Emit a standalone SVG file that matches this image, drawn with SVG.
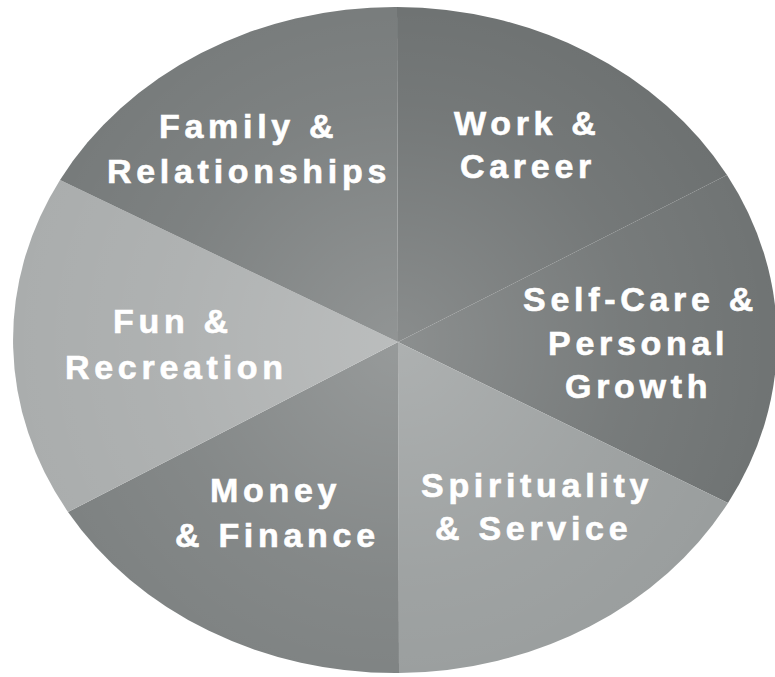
<svg xmlns="http://www.w3.org/2000/svg" width="775" height="677" viewBox="0 0 775 677">
  <defs>
    <radialGradient id="glow" cx="398" cy="342" r="390" gradientUnits="userSpaceOnUse">
      <stop offset="0" stop-color="#ffffff" stop-opacity="0.2"/>
      <stop offset="0.6" stop-color="#ffffff" stop-opacity="0.06"/>
      <stop offset="1" stop-color="#ffffff" stop-opacity="0"/>
    </radialGradient>
    <style>
      .slice { stroke: none; }
      .label { font-family: "Liberation Sans", Arial, Helvetica, sans-serif; font-weight: bold; font-size: 34px; letter-spacing: 4.7px; fill: #ffffff; stroke: #ffffff; stroke-width: 0.6px; }
    </style>
  </defs>
  <rect width="775" height="677" fill="#ffffff"/>

  <!-- Wheel slices, clockwise from the top -->
  <g id="work-career">
    <path class="slice" fill="#6c7070" d="M398 342 L397 7 A382 333 0 0 1 727 175 Z"/>
  </g>
  <g id="self-care">
    <path class="slice" fill="#6f7373" d="M398 342 L727 175 A382 333 0 0 1 728 503 Z"/>
  </g>
  <g id="spirituality-service">
    <path class="slice" fill="#999d9d" d="M398 342 L728 503 A382 333 0 0 1 399 673 Z"/>
  </g>
  <g id="money-finance">
    <path class="slice" fill="#7d8181" d="M398 342 L399 673 A382 333 0 0 1 68 512 Z"/>
  </g>
  <g id="fun-recreation">
    <path class="slice" fill="#aaadad" d="M398 342 L68 512 A382 333 0 0 1 60 180 Z"/>
  </g>
  <g id="family-relationships">
    <path class="slice" fill="#767a7a" d="M398 342 L60 180 A382 333 0 0 1 397 7 Z"/>
  </g>

  <!-- soft light toward the hub -->
  <ellipse cx="395" cy="340" rx="382" ry="333" fill="url(#glow)"/>

  <!-- Labels -->
  <g id="labels">
    <text class="label" x="159" y="138">Family &amp;</text>
    <text class="label" x="107" y="183">Relationships</text>
    <text class="label" x="454" y="135">Work &amp;</text>
    <text class="label" x="460" y="178">Career</text>
    <text class="label" x="523" y="311">Self-Care &amp;</text>
    <text class="label" x="548" y="355">Personal</text>
    <text class="label" x="565" y="398">Growth</text>
    <text class="label" x="113" y="333">Fun &amp;</text>
    <text class="label" x="65" y="379">Recreation</text>
    <text class="label" x="210" y="502">Money</text>
    <text class="label" x="175" y="547">&amp; Finance</text>
    <text class="label" x="421" y="497">Spirituality</text>
    <text class="label" x="435" y="540">&amp; Service</text>
  </g>
</svg>
